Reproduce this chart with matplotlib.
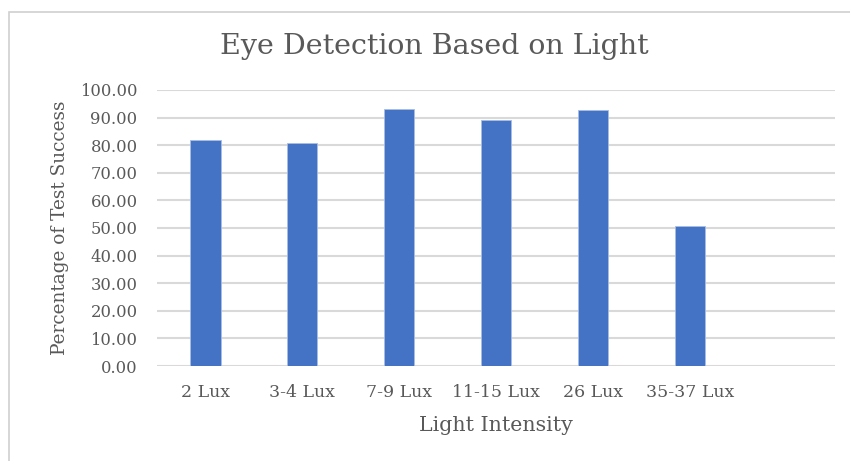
import matplotlib
matplotlib.use("Agg")
import matplotlib.pyplot as plt
from matplotlib.patches import Rectangle

categories = ["2 Lux", "3-4 Lux", "7-9 Lux", "11-15 Lux", "26 Lux", "35-37 Lux", ""]
values = [81.9, 80.8, 93.1, 89.3, 92.7, 50.8, None]
yticks = [0, 10, 20, 30, 40, 50, 60, 70, 80, 90, 100]

plt.rcParams['font.family'] = ['DejaVu Serif']
txt = '#595959'

fig = plt.figure(figsize=(8.5, 4.61), dpi=100)
fig.patches.append(Rectangle((9/850, -0.1), 1.0, 1 - 12/461 + 0.1, transform=fig.transFigure,
                             fill=False, edgecolor='#d0d0d0', linewidth=1.2))
ax = fig.add_axes([157/850, 1 - 366/461, (835 - 157)/850, (366 - 90)/461])

xs = list(range(len(categories)))
hv = [v if v is not None else 0 for v in values]
ax.bar(xs, hv, width=0.313, color='#4472C4', zorder=3, edgecolor='#a9bde3', linewidth=0.6)
ax.set_xlim(-0.5, len(categories) - 0.5)
ax.set_ylim(0, 100)
ax.set_yticks(yticks)
ax.set_yticklabels([f"{v:.2f}" for v in yticks], color=txt, fontsize=11.8)
ax.set_xticks(xs)
ax.set_xticklabels(categories, color=txt, fontsize=12.5)
ax.tick_params(axis='both', length=0)
ax.tick_params(axis='y', pad=14)
ax.tick_params(axis='x', pad=13)
ax.grid(axis='y', color='#d9d9d9', linewidth=1.5, zorder=0)
for s in ax.spines.values():
    s.set_visible(False)
ax.set_xlabel("Light Intensity", color=txt, fontsize=14.8, labelpad=11)
ax.set_ylabel("Percentage of Test Success", color=txt, fontsize=13.3, labelpad=8)
fig.text(434/850, 1 - 46/461, "Eye Detection Based on Light", ha='center', va='center',
         color=txt, fontsize=20.5)

fig.savefig("out.png", dpi=100)
